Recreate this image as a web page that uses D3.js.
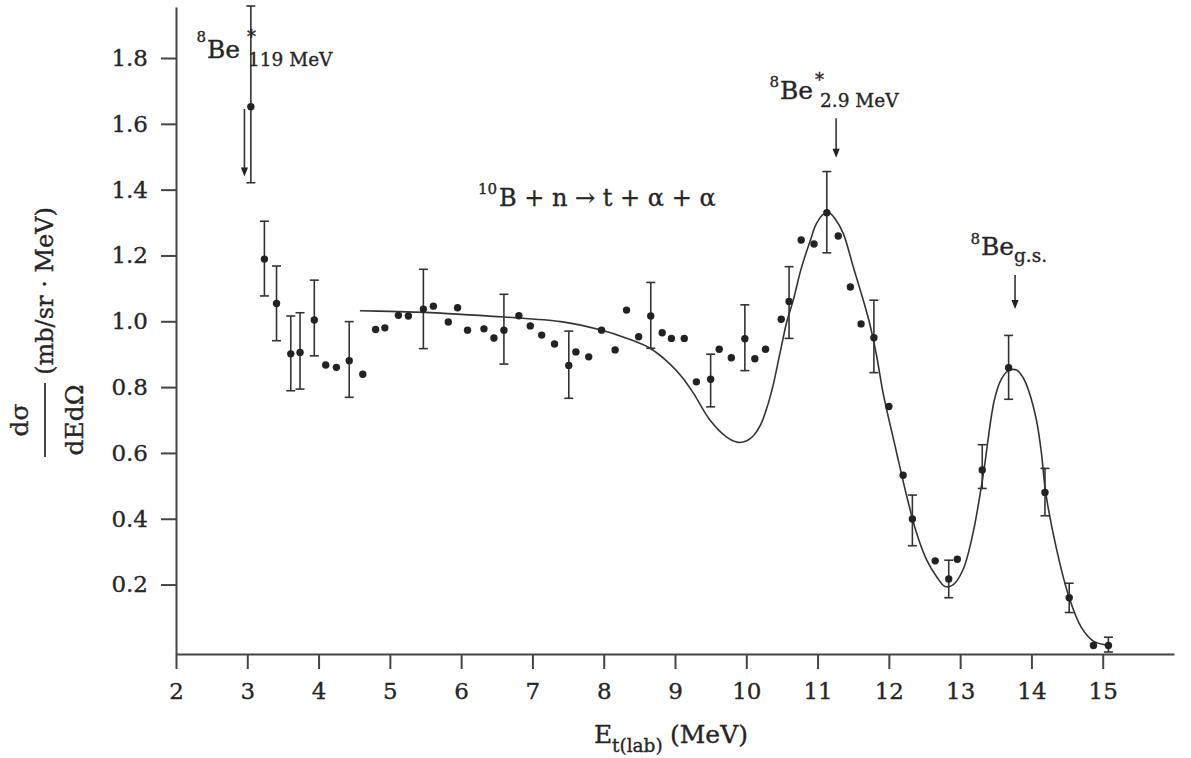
<!DOCTYPE html>
<html><head><meta charset="utf-8">
<script src="https://cdn.jsdelivr.net/npm/d3@7"></script>
<style>
body{margin:0;background:#fff}
svg{display:block}
text{font-family:'DejaVu Serif',serif;fill:#262626;stroke:#262626;stroke-width:0.35px}
</style></head>
<body><svg id="c" width="1191" height="758"></svg>
<script>
// ---- data ----
const energy = [3.05,3.24,3.41,3.61,3.74,3.94,4.10,4.25,4.43,4.62,4.80,4.93,5.12,5.26,5.47,5.61,5.82,5.95,6.09,6.32,6.46,6.60,6.81,6.97,7.13,7.31,7.51,7.61,7.79,7.97,8.16,8.32,8.49,8.66,8.82,8.95,9.13,9.30,9.50,9.62,9.79,9.98,10.12,10.27,10.49,10.60,10.77,10.95,11.13,11.29,11.46,11.61,11.79,12.00,12.20,12.33,12.65,12.84,12.96,13.31,13.68,14.19,14.53,14.87,15.08];
const sigma = [1.652,1.189,1.054,0.901,0.905,1.004,0.867,0.860,0.880,0.839,0.975,0.980,1.018,1.016,1.037,1.046,0.998,1.041,0.973,0.977,0.949,0.973,1.017,0.986,0.958,0.931,0.866,0.907,0.892,0.973,0.913,1.034,0.953,1.016,0.965,0.948,0.948,0.816,0.824,0.915,0.889,0.947,0.886,0.915,1.006,1.060,1.247,1.235,1.330,1.259,1.104,0.992,0.950,0.741,0.532,0.399,0.272,0.217,0.277,0.548,0.859,0.480,0.160,0.015,0.015];
const errLow = [1.421,1.077,0.941,0.789,0.794,0.895,null,null,0.769,null,null,null,null,null,0.917,null,null,null,null,null,null,0.870,null,null,null,null,0.766,null,null,null,null,null,null,0.918,null,null,null,null,0.740,null,null,0.850,null,null,null,0.948,null,null,1.208,null,null,null,0.844,null,null,0.318,null,0.160,null,0.492,0.763,0.409,0.115,null,-0.005];
const errHigh = [1.958,1.304,1.168,1.016,1.026,1.125,null,null,0.999,null,null,null,null,null,1.158,null,null,null,null,null,null,1.082,null,null,null,null,0.970,null,null,null,null,null,null,1.118,null,null,null,null,0.900,null,null,1.050,null,null,null,1.166,null,null,1.455,null,null,null,1.064,null,null,0.472,null,0.274,null,0.625,0.957,0.553,0.204,null,0.040];
// fitted curve drawn in the reference
const fitE = [4.58,5.00,5.50,6.00,6.60,7.40,7.95,8.30,8.65,8.93,9.10,9.26,9.49,9.72,9.89,10.00,10.10,10.20,10.28,10.37,10.47,10.57,10.66,10.77,10.89,10.98,11.08,11.17,11.25,11.36,11.50,11.64,11.73,11.83,11.92,12.10,12.24,12.39,12.53,12.67,12.79,12.90,13.04,13.18,13.32,13.48,13.58,13.68,13.79,13.88,13.96,14.07,14.14,14.20,14.35,14.53,14.70,14.87,15.08];
const fitSigma = [1.032,1.030,1.027,1.021,1.013,0.999,0.974,0.950,0.918,0.870,0.830,0.781,0.700,0.649,0.632,0.636,0.652,0.685,0.731,0.800,0.900,1.000,1.065,1.160,1.240,1.295,1.325,1.328,1.310,1.267,1.166,1.065,0.994,0.893,0.781,0.609,0.478,0.356,0.275,0.224,0.194,0.199,0.245,0.356,0.528,0.761,0.825,0.850,0.852,0.830,0.790,0.700,0.600,0.480,0.310,0.160,0.070,0.028,0.015];
const xTicks = [2,3,4,5,6,7,8,9,10,11,12,13,14,15];
const yTicks = [0.2,0.4,0.6,0.8,1.0,1.2,1.4,1.6,1.8];

// ---- layout ----
const svg = d3.select('#c');
const x = d3.scaleLinear().domain([2,16]).range([176,1174]);
const y = d3.scaleLinear().domain([-0.011,1.955]).range([654,7]);
const ink = '#262626';

// axes
const gx = svg.append('g').attr('transform','translate(0,654)')
  .call(d3.axisBottom(x).tickValues(xTicks).tickSize(15).tickSizeOuter(0).tickPadding(14).tickFormat(d3.format('d')));
const gy = svg.append('g').attr('transform','translate(176,0)')
  .call(d3.axisLeft(y).tickValues(yTicks).tickSize(15).tickSizeOuter(0).tickPadding(13).tickFormat(d3.format('.1f')));
[gx,gy].forEach(g=>{
  g.select('.domain').attr('stroke','#444').attr('stroke-width',2);
  g.selectAll('.tick line').attr('stroke','#444').attr('stroke-width',2);
  g.selectAll('.tick text').style('font-family',"'DejaVu Serif',serif").style('font-size','23px')
    .style('fill',ink).style('stroke',ink).style('stroke-width','0.35px');
});

// fitted curve
svg.append('path')
  .datum(fitE.map((e,i)=>[e,fitSigma[i]]))
  .attr('fill','none').attr('stroke','#333').attr('stroke-width',1.6)
  .attr('d', d3.line().x(d=>x(d[0])).y(d=>y(d[1])).curve(d3.curveCatmullRom.alpha(0.5)));

// error bars
const eb = svg.append('g').attr('stroke','#333').attr('stroke-width',1.6).attr('fill','none');
energy.forEach((e,i)=>{
  if(errLow[i]===null) return;
  const cx = x(e), y0 = y(errLow[i]), y1 = y(errHigh[i]);
  eb.append('line').attr('x1',cx).attr('x2',cx).attr('y1',y0).attr('y2',y1);
  eb.append('line').attr('x1',cx-4.5).attr('x2',cx+4.5).attr('y1',y0).attr('y2',y0);
  eb.append('line').attr('x1',cx-4.5).attr('x2',cx+4.5).attr('y1',y1).attr('y2',y1);
});

// points
svg.append('g').selectAll('circle').data(energy).join('circle')
  .attr('cx',d=>x(d)).attr('cy',(d,i)=>y(sigma[i])).attr('r',3.7).attr('fill','#222');

// arrows
const arrows = [[2.96,1.645,1.440],[11.26,1.617,1.497],[13.77,1.141,1.037]];
arrows.forEach(a=>{
  const ax = x(a[0]), ya = y(a[1]), yb = y(a[2]);
  svg.append('line').attr('x1',ax).attr('x2',ax).attr('y1',ya).attr('y2',yb-4)
    .attr('stroke','#333').attr('stroke-width',1.6);
  svg.append('path').attr('d',`M${ax},${yb}L${ax-3.6},${yb-9}L${ax+3.6},${yb-9}Z`).attr('fill','#222');
});

function t(xp,yp,str,size,anchor){ return svg.append('text').attr('x',xp).attr('y',yp).attr('text-anchor',anchor||'start').style('font-size',size+'px').text(str); }

// annotations
t(206,42,'8',15,'end'); t(207,58,'Be',25); t(247,43,'*',18); t(248,66,'119 MeV',18.5);
t(779,87,'8',15,'end'); t(780,99,'Be',25); t(815,86,'*',18); t(820,107,'2.9 MeV',18.5);
t(980,244,'8',15,'end'); t(981,255,'Be',25); t(1014,262,'g.s.',18.5);
t(497,194,'10',15,'end'); t(499,206,'B + n → t + α + α',24);

// x-axis label
t(594,743,'E',25); t(612,752,'t(lab)',18.5); t(670,743,'(MeV)',25);

// y-axis label
svg.append('text').attr('transform','translate(28,420) rotate(-90)').attr('text-anchor','middle').style('font-size','25px').text('dσ');
svg.append('line').attr('x1',45).attr('x2',45).attr('y1',383).attr('y2',457).attr('stroke','#444').attr('stroke-width',2);
svg.append('text').attr('transform','translate(83,420) rotate(-90)').attr('text-anchor','middle').style('font-size','25px').text('dEdΩ');
svg.append('text').attr('transform','translate(53,291) rotate(-90)').attr('text-anchor','middle').style('font-size','24px').text('(mb/sr · MeV)');
</script></body></html>
